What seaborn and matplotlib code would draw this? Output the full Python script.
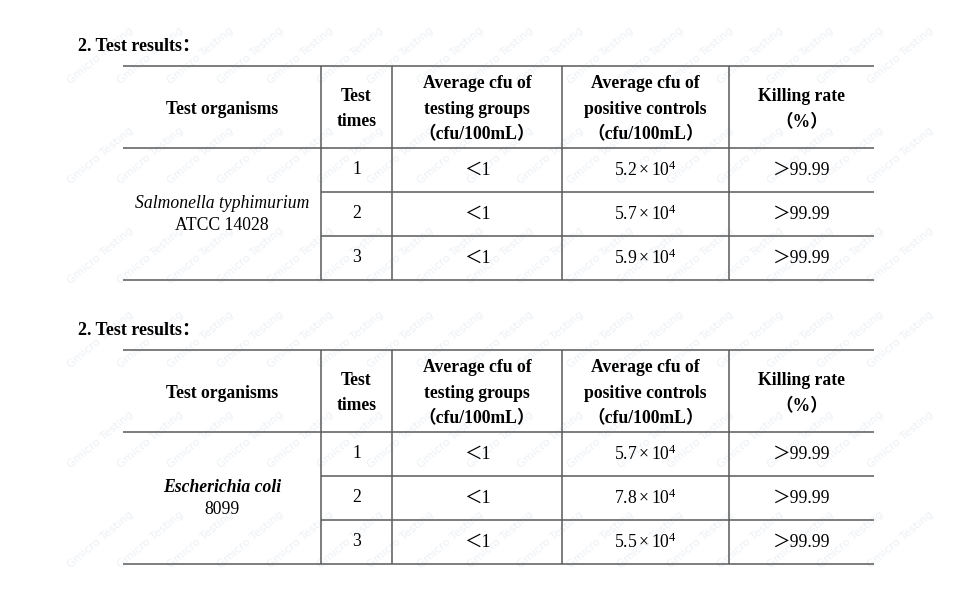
import matplotlib.pyplot as plt
import seaborn as sns

# ── Data ──────────────────────────────────────────────────────────────────
section_title = '2. Test results：'
headers = ['Test organisms', 'Test\ntimes',
           'Average cfu of\ntesting groups\n（cfu/100mL）',
           'Average cfu of\npositive controls\n（cfu/100mL）',
           'Killing rate\n（%）']
organisms = ['Salmonella typhimurium', 'Escherichia coli']
organism_weights = ['normal', 'bold']
strains = ['ATCC 14028', '8099']
test_times = ['1', '2', '3']
test_cfu = [['＜1', '＜1', '＜1'], ['＜1', '＜1', '＜1']]
control_mantissa = [[5.2, 5.7, 5.9], [5.7, 7.8, 5.5]]
control_exp = 4
killing_rate = [['＞99.99', '＞99.99', '＞99.99'],
                ['＞99.99', '＞99.99', '＞99.99']]
watermark = 'Gmicro Testing'

# ── Layout (pixel units) ──────────────────────────────────────────────────
col_edges = [123, 321, 392, 562, 729, 874]
table_tops = [66, 350]
header_h = 82
row_h = 44
line_col = '#5a5a5a'
lw = 1.1
fs = 12.7

sns.set_theme(style='white')
plt.rcParams['font.family'] = ['Liberation Serif', 'Noto Sans CJK SC', 'DejaVu Serif']
plt.rcParams['text.color'] = 'black'
plt.rcParams['mathtext.fontset'] = 'custom'
plt.rcParams['mathtext.rm'] = 'Liberation Serif'
plt.rcParams['mathtext.it'] = 'Liberation Serif:italic'
plt.rcParams['mathtext.bf'] = 'Liberation Serif:bold'

fig = plt.figure(figsize=(9.7, 6), dpi=100)
ax = fig.add_axes([0, 0, 1, 1])
ax.set_xlim(0, 970)
ax.set_ylim(600, 0)
ax.axis('off')

centers = [(a + b) / 2 for a, b in zip(col_edges[:-1], col_edges[1:])]

for t, top in enumerate(table_tops):
    # faint background watermark
    for wy in range(top - 10, top + 200, 100):
        for wx in range(100, 920, 50):
            ax.text(wx, wy, watermark, fontsize=8, color='#edf1f5',
                    rotation=40, ha='center', va='center',
                    family=['DejaVu Sans'], zorder=0)

    ax.text(78, top - 20, section_title, fontsize=13, fontweight='bold',
            ha='left', va='center')
    hdr_bot = top + header_h
    bottom = hdr_bot + row_h * len(test_times)

    # full-width rules
    for y in [top, hdr_bot, bottom]:
        ax.hlines(y, col_edges[0], col_edges[-1], color=line_col, lw=lw)
    # inner row rules (organism column is merged)
    for i in range(1, len(test_times)):
        y = hdr_bot + row_h * i
        ax.hlines(y, col_edges[1], col_edges[-1], color=line_col, lw=lw)
    # vertical rules
    for x in col_edges[1:-1]:
        ax.vlines(x, top, bottom, color=line_col, lw=lw)

    # header text
    for cx, h in zip(centers, headers):
        ax.text(cx, top + header_h / 2 + 2, h, fontsize=fs, fontweight='bold',
                ha='center', va='center', linespacing=1.62)

    # organism (merged cell)
    mid = hdr_bot + row_h * len(test_times) / 2
    ax.text(centers[0], mid - 10, organisms[t], fontsize=fs, style='italic',
            fontweight=organism_weights[t], ha='center', va='center')
    ax.text(centers[0], mid + 12, strains[t], fontsize=fs,
            ha='center', va='center')

    # body rows
    for i, tt in enumerate(test_times):
        cy = hdr_bot + row_h * (i + 0.5)
        ctrl = rf'${control_mantissa[t][i]:.1f}\times10^{{{control_exp}}}$'
        vals = [tt, test_cfu[t][i], ctrl, killing_rate[t][i]]
        for cx, v in zip(centers[1:], vals):
            ax.text(cx, cy, v, fontsize=fs, ha='center', va='center')

fig.savefig('out.png', dpi=100, facecolor='white')
